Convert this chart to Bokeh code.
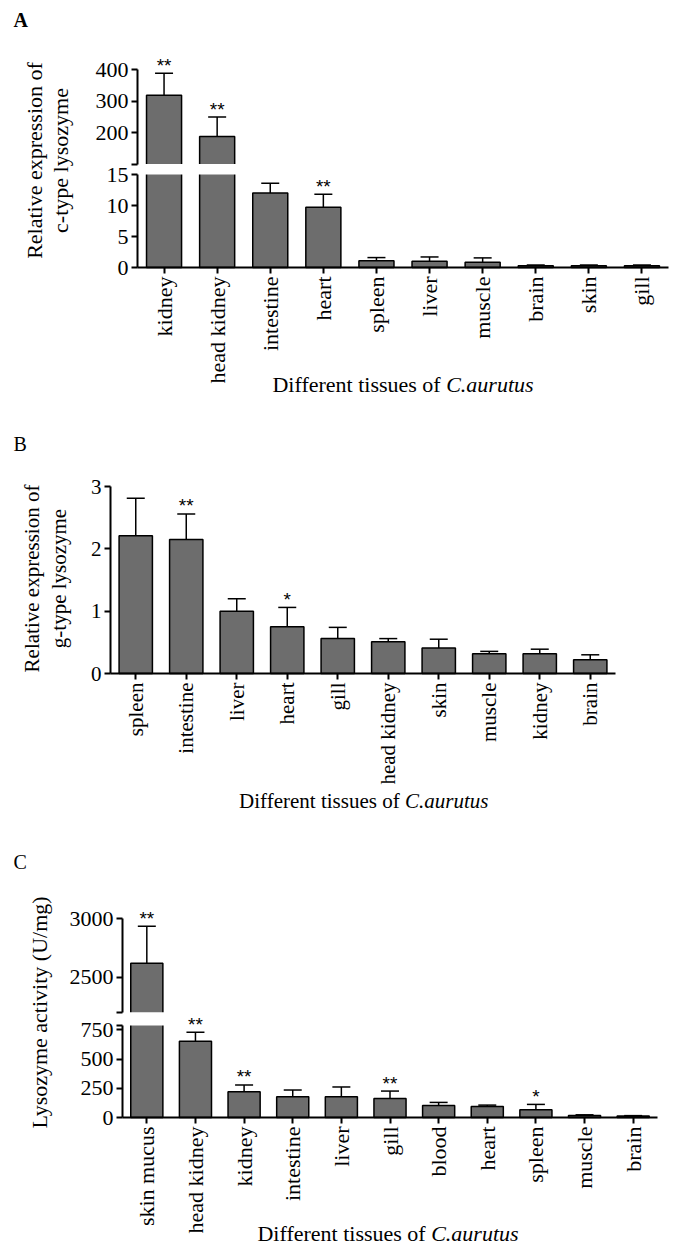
import math
from bokeh.plotting import figure
from bokeh.layouts import column
from bokeh.models import (ColumnDataSource, Range1d, LinearAxis, FixedTicker,
                          Whisker, TeeHead, BoxAnnotation, Label)
from bokeh.core.properties import value
from bokeh.embed import file_html
from bokeh.resources import INLINE

# ---------------- data ----------------
a_tissues = ["kidney", "head kidney", "intestine", "heart", "spleen", "liver",
             "muscle", "brain", "skin", "gill"]
a_values = [318, 187, 12.0, 9.7, 1.1, 1.0, 0.85, 0.3, 0.3, 0.3]
a_errors = [70, 62, 1.6, 2.1, 0.5, 0.7, 0.7, 0.1, 0.1, 0.1]
a_sig = ["**", "**", "", "**", "", "", "", "", "", ""]
a_lower_ticks = [0, 5, 10, 15]
a_upper_ticks = [200, 300, 400]

b_tissues = ["spleen", "intestine", "liver", "heart", "gill", "head kidney",
             "skin", "muscle", "kidney", "brain"]
b_values = [2.21, 2.15, 1.0, 0.75, 0.56, 0.51, 0.41, 0.315, 0.315, 0.22]
b_errors = [0.6, 0.41, 0.2, 0.31, 0.18, 0.05, 0.14, 0.04, 0.075, 0.08]
b_sig = ["", "**", "", "*", "", "", "", "", "", ""]
b_ticks = [0, 1, 2, 3]

c_tissues = ["skin mucus", "head kidney", "kidney", "intestine", "liver", "gill",
             "blood", "heart", "spleen", "muscle", "brain"]
c_values = [2620, 652, 220, 178, 178, 163, 103, 94, 66, 17, 12]
c_errors = [317, 78, 58, 57, 83, 63, 26, 12, 46, 6, 4]
c_sig = ["**", "**", "**", "", "", "**", "", "", "*", "", ""]
c_lower_ticks = [0, 250, 500, 750]
c_upper_ticks = [2500, 3000]

x_title = "Different tissues of"
x_title_italic = "C.aurutus"

# ---------------- style ----------------
SERIF = "Liberation Serif"
SANS = "Liberation Sans"
FILL = "#6d6d6d"
W = 676


def style_axis(ax, fs):
    ax.axis_line_width = 2
    ax.axis_line_color = "black"
    ax.major_tick_line_width = 2
    ax.major_tick_line_color = "black"
    ax.major_tick_out = 6
    ax.major_tick_in = 0
    ax.minor_tick_line_color = None
    ax.major_label_text_font = SERIF
    ax.major_label_text_font_size = f"{fs}px"
    ax.major_label_text_color = "black"
    ax.major_label_standoff = 3
    ax.axis_label = None


def add_label(p, T, H, px, py, text, fs, style="normal", align="left",
              baseline="alphabetic", angle=0.0):
    # the frame fills the whole figure, so screen units are figure pixels from bottom-left
    p.add_layout(Label(x=px, y=(T + H) - py, x_units="screen", y_units="screen",
                       text=text, text_font=SERIF, text_font_size=f"{fs}px",
                       text_font_style=style, text_align=align, text_baseline=baseline,
                       angle=angle, text_color="black"))


def panel(tissues, vals, errs, sig, H, fl, fr, fb, fs, lower, upper=None):
    N = len(tissues)
    xs = list(range(N))
    cpx = (fr - fl) / N
    ppu_l = lower["ppu"]
    p = figure(x_range=Range1d(-fl / cpx - 0.5, (W - fl) / cpx - 0.5),
               y_range=Range1d(-(H - fb) / ppu_l, fb / ppu_l),
               width=W, height=H, title=None, output_backend="svg", toolbar_location=None,
               x_axis_location=None, y_axis_location=None,
               min_border=0, min_border_left=0, min_border_right=0,
               min_border_top=0, min_border_bottom=0)
    p.outline_line_color = None
    p.xgrid.visible = False
    p.ygrid.visible = False

    # x axis
    xa = LinearAxis(fixed_location=0, bounds=(-0.5, N - 0.5))
    style_axis(xa, fs)
    xa.ticker = FixedTicker(ticks=xs)
    xa.major_label_overrides = {i: t for i, t in zip(xs, tissues)}
    xa.major_label_orientation = math.pi / 2
    p.add_layout(xa, "below")

    # lower y axis segment
    seg_top = lower["top"]
    ya = LinearAxis(fixed_location=-0.5, bounds=(0, seg_top))
    style_axis(ya, fs)
    lt = list(lower["ticks"])
    ov = {}
    if seg_top not in lt:
        lt.append(seg_top)
        ov[seg_top] = ""
    ya.ticker = FixedTicker(ticks=lt)
    ya.major_label_overrides = ov
    p.add_layout(ya, "left")

    broken = [False] * N
    if upper is not None:
        ppu_u = upper["ppu"]
        rv, rp = upper["ref_val"], upper["ref_px"]
        p.extra_y_ranges = {"upper": Range1d(rv - (H - rp) / ppu_u, rv + rp / ppu_u)}
        up_bottom_px = rp + (rv - upper["bottom"]) * ppu_u
        low_top_px = fb - seg_top * ppu_l
        gap_l = (seg_top, (fb - up_bottom_px) / ppu_l)
        gap_u = (rv - (low_top_px - rp) / ppu_u, upper["bottom"])
        mid_l = sum(gap_l) / 2
        mid_u = sum(gap_u) / 2
        broken = [v > seg_top for v in vals]
        low_top = [mid_l if b else v for v, b in zip(vals, broken)]
    else:
        low_top = list(vals)

    p.vbar(x=xs, top=low_top, bottom=0, width=0.66, fill_color=FILL,
           line_color="black", line_width=1.5)

    if upper is not None:
        ux = [x for x, b in zip(xs, broken) if b]
        uv = [v for v, b in zip(vals, broken) if b]
        p.vbar(x=ux, top=uv, bottom=mid_u, width=0.66, fill_color=FILL,
               line_color="black", line_width=1.5, y_range_name="upper")
        p.add_layout(BoxAnnotation(left=-0.45, right=N - 0.5, bottom=gap_l[0], top=gap_l[1],
                                   fill_color="white", fill_alpha=1.0, line_alpha=0.0))
        ua = LinearAxis(y_range_name="upper", fixed_location=-0.5,
                        bounds=(upper["bottom"], upper["top"]))
        style_axis(ua, fs)
        ut = list(upper["ticks"])
        uov = {}
        if upper["bottom"] not in ut:
            ut = [upper["bottom"]] + ut
            uov[upper["bottom"]] = ""
        ua.ticker = FixedTicker(ticks=ut)
        ua.major_label_overrides = uov
        p.add_layout(ua, "left")

    for rng, want in (("default", False), ("upper", True)):
        idx = [i for i, b in enumerate(broken) if b == want]
        if not idx:
            continue
        src = ColumnDataSource(dict(x=[xs[i] for i in idx],
                                    lo=[vals[i] for i in idx],
                                    hi=[vals[i] + errs[i] for i in idx]))
        p.add_layout(Whisker(base="x", lower="lo", upper="hi", source=src, y_range_name=rng,
                             line_color="black", line_width=1.5, lower_head=None,
                             upper_head=TeeHead(size=18, line_color="black", line_width=1.5)))
        sidx = [i for i in idx if sig[i]]
        if sidx:
            ssrc = ColumnDataSource(dict(x=[xs[i] for i in sidx],
                                         y=[vals[i] + errs[i] for i in sidx],
                                         t=[sig[i] for i in sidx]))
            r = p.text(x="x", y="y", text="t", source=ssrc, y_range_name=rng,
                       text_font=value(SANS), text_font_size="19px", text_align="center",
                       text_baseline="alphabetic", y_offset=-8, text_color="black")
            r.level = "overlay"
    return p


# ---------------- panel A ----------------
TA, HA = 0, 405
pA = panel(a_tissues, a_values, a_errors, a_sig, HA, 137, 668, 267, 22,
           lower=dict(ppu=6.2, top=15, ticks=a_lower_ticks),
           upper=dict(ppu=0.315, ref_val=400, ref_px=69, bottom=100, top=400,
                      ticks=a_upper_ticks))
add_label(pA, TA, HA, 13, 19, "A", 20, style="bold")
add_label(pA, TA, HA, 33.5, 160, "Relative expression of", 22, align="center",
          baseline="middle", angle=math.pi / 2)
add_label(pA, TA, HA, 59.5, 160, "c-type lysozyme", 22, align="center",
          baseline="middle", angle=math.pi / 2)
add_label(pA, TA, HA, 440.2, 383.5, x_title, 22, align="right")
add_label(pA, TA, HA, 445.7, 383.5, x_title_italic, 22, style="italic")

# ---------------- panel B ----------------
TB, HB = 405, 410
pB = panel(b_tissues, b_values, b_errors, b_sig, HB, 110, 615, 268, 21,
           lower=dict(ppu=187 / 3.0, top=3, ticks=b_ticks))
add_label(pB, TB, HB, 13, 443.7, "B", 20)
add_label(pB, TB, HB, 31.5, 578, "Relative expression of", 21, align="center",
          baseline="middle", angle=math.pi / 2)
add_label(pB, TB, HB, 58.5, 578, "g-type lysozyme", 21, align="center",
          baseline="middle", angle=math.pi / 2)
add_label(pB, TB, HB, 399.2, 800, x_title, 21, align="right")
add_label(pB, TB, HB, 404.5, 800, x_title_italic, 21, style="italic")

# ---------------- panel C ----------------
TC, HC = 815, 430
pC = panel(c_tissues, c_values, c_errors, c_sig, HC, 122, 657, 302, 22,
           lower=dict(ppu=87.7 / 750.0, top=787, ticks=c_lower_ticks),
           upper=dict(ppu=0.1168, ref_val=3000, ref_px=103.3, bottom=2200, top=3000,
                      ticks=c_upper_ticks))
add_label(pC, TC, HC, 13, 861.5, "C", 20)
add_label(pC, TC, HC, 38.5, 1012, "Lysozyme activity (U/mg)", 22, align="center",
          baseline="middle", angle=math.pi / 2)
add_label(pC, TC, HC, 425.2, 1233, x_title, 22, align="right")
add_label(pC, TC, HC, 430.7, 1233, x_title_italic, 22, style="italic")

layout = column(pA, pB, pC)
open("out.html", "w").write(file_html(layout, INLINE))
